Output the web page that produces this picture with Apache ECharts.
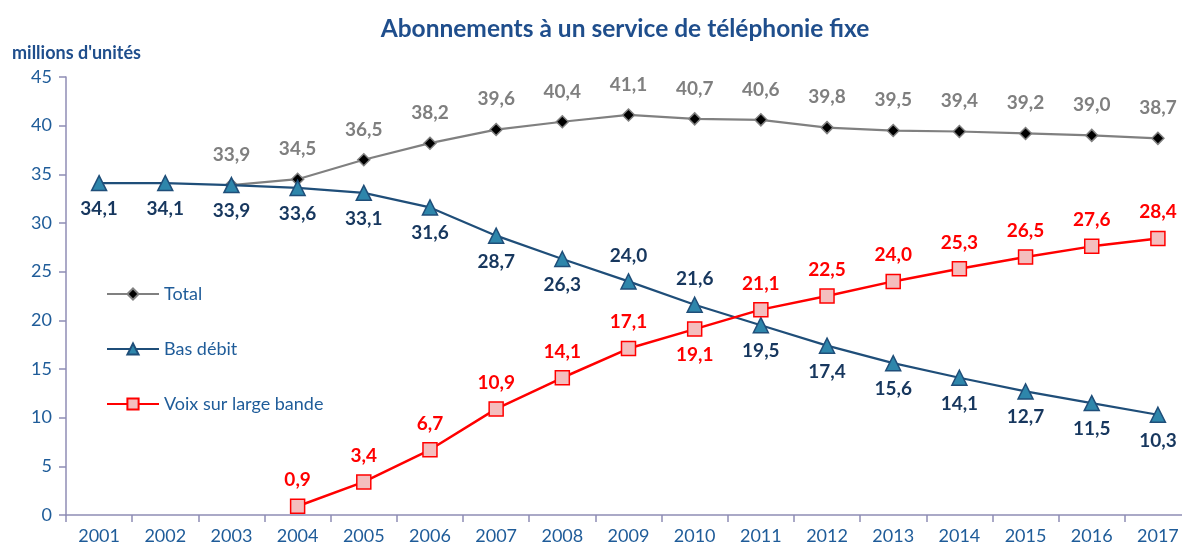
<!DOCTYPE html>
<html>
<head>
<meta charset="utf-8">
<script src="https://cdn.jsdelivr.net/npm/echarts@6/dist/echarts.min.js"></script>
<style>
  html, body { margin: 0; padding: 0; background: #fff; }
  #chart { width: 1182px; height: 550px; }
</style>
</head>
<body>
<div id="chart"></div>
<script>
// données (millions d'unités)
var years = ['2001','2002','2003','2004','2005','2006','2007','2008','2009','2010','2011','2012','2013','2014','2015','2016','2017'];
var total = [null, null, 33.9, 34.5, 36.5, 38.2, 39.6, 40.4, 41.1, 40.7, 40.6, 39.8, 39.5, 39.4, 39.2, 39.0, 38.7];
var basDebit = [34.1, 34.1, 33.9, 33.6, 33.1, 31.6, 28.7, 26.3, 24.0, 21.6, 19.5, 17.4, 15.6, 14.1, 12.7, 11.5, 10.3];
var voix = [null, null, null, 0.9, 3.4, 6.7, 10.9, 14.1, 17.1, 19.1, 21.1, 22.5, 24.0, 25.3, 26.5, 27.6, 28.4];
var yTicks = [0, 5, 10, 15, 20, 25, 30, 35, 40, 45];

var FONT = 'Lato';
var BLUE = '#1F5C99';

function fmt(p) {
  return p.value == null ? '' : p.value.toFixed(1).replace('.', ',');
}

// labels au-dessus / en dessous selon les points
function withLabels(arr, defPos, otherIdx, dist) {
  return arr.map(function (v, i) {
    var pos = otherIdx.indexOf(i) >= 0 ? (defPos === 'top' ? 'bottom' : 'top') : defPos;
    return { value: v, label: { position: pos, distance: dist } };
  });
}

var chart = echarts.init(document.getElementById('chart'));

chart.setOption({
  animation: false,
  title: {
    text: 'Abonnements à un service de téléphonie fixe',
    left: 620,
    textAlign: 'center',
    top: 12,
    textStyle: { color: '#1F4E8C', fontFamily: FONT, fontWeight: 'bold', fontSize: 24.5 }
  },
  grid: {
    left: 66,
    right: -9,
    top: 77,
    bottom: 35,
    outerBoundsMode: 'none',
    containLabel: false
  },
  legend: {
    orient: 'vertical',
    left: 101,
    top: 280,
    itemGap: 37,
    itemWidth: 52,
    itemHeight: 14,
    textStyle: { color: BLUE, fontFamily: FONT, fontSize: 18 },
    data: ['Total', 'Bas débit', 'Voix sur large bande']
  },
  graphic: [{
    type: 'text',
    left: 12,
    top: 44,
    style: { text: "millions d'unités", fill: '#1F4E8C', font: 'bold 18px ' + FONT }
  }],
  xAxis: {
    type: 'category',
    data: years,
    boundaryGap: true,
    axisLine: { lineStyle: { color: '#8F8DB5', width: 1.5 } },
    axisTick: { show: true, length: 7, lineStyle: { color: '#8F8DB5', width: 1.5 } },
    axisLabel: { color: BLUE, fontFamily: FONT, fontSize: 18, margin: 12 },
    splitLine: { show: false }
  },
  yAxis: {
    type: 'value',
    min: yTicks[0],
    max: yTicks[yTicks.length - 1],
    interval: 5,
    axisLine: { show: true, lineStyle: { color: '#8F8DB5', width: 1.5 } },
    axisTick: { show: true, length: 7, lineStyle: { color: '#8F8DB5', width: 1.5 } },
    axisLabel: { color: BLUE, fontFamily: FONT, fontSize: 18, margin: 14 },
    splitLine: { show: false }
  },
  series: [
    {
      name: 'Total',
      type: 'line',
      data: withLabels(total, 'top', [], 14),
      connectNulls: false,
      symbol: 'diamond',
      symbolSize: 12,
      lineStyle: { color: '#808080', width: 2.2 },
      itemStyle: { color: '#000000', borderColor: '#808080', borderWidth: 1.5 },
      label: { show: true, formatter: fmt, color: '#7F7F7F', fontFamily: FONT, fontWeight: 'bold', fontSize: 19 },
      z: 2
    },
    {
      name: 'Bas débit',
      type: 'line',
      data: withLabels(basDebit, 'bottom', [8, 9], 8),
      symbol: 'triangle',
      symbolSize: 15,
      lineStyle: { color: '#1F4E79', width: 2.2 },
      itemStyle: { color: '#2E86AB', borderColor: '#1F4E79', borderWidth: 1.5 },
      label: { show: true, formatter: fmt, color: '#17375E', fontFamily: FONT, fontWeight: 'bold', fontSize: 19 },
      z: 3
    },
    {
      name: 'Voix sur large bande',
      type: 'line',
      data: withLabels(voix, 'top', [9], 9),
      symbol: 'rect',
      symbolSize: 14,
      lineStyle: { color: '#FF0000', width: 2.5 },
      itemStyle: { color: '#F4BEBE', borderColor: '#FF0000', borderWidth: 1.5 },
      label: { show: true, formatter: fmt, color: '#FF0000', fontFamily: FONT, fontWeight: 'bold', fontSize: 19 },
      z: 4
    }
  ]
});
</script>
</body>
</html>
